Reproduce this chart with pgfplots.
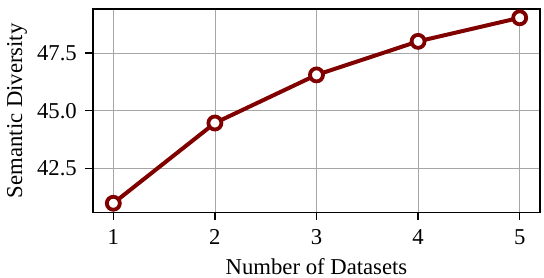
\documentclass[border=0pt]{standalone}
\usepackage{fontspec}
\setmainfont{Liberation Serif}
\usepackage{pgfplots}
\pgfplotsset{compat=1.18}
\definecolor{lc}{HTML}{800000}
\begin{document}
\fontsize{22.7}{27}\selectfont
\begin{tikzpicture}
\begin{axis}[
  scale only axis,
  width=447pt, height=203.5pt,
  xmin=0.8, xmax=5.2,
  ymin=40.6, ymax=49.4,
  xtick={1,2,3,4,5},
  ytick={42.5,45.0,47.5},
  yticklabel style={/pgf/number format/fixed, /pgf/number format/fixed zerofill, /pgf/number format/precision=1},
  /pgf/number format/assume math mode=true,
  tick align=outside,
  tick style={black, line width=1.2pt},
  major tick length=7.5pt,
  xtick pos=bottom, ytick pos=left,
  axis line style={line width=1.6pt, black},
  grid=major,
  major grid style={line width=0.8pt, color=black!35},
  xticklabel style={inner sep=0pt},
  yticklabel style={inner sep=0pt},
  xticklabel shift=9pt, yticklabel shift=8.5pt,
  xlabel={Number of Datasets},
  ylabel={Semantic Diversity},
  xlabel style={at={(axis description cs:0.5,-0.3047)}, anchor=base, inner sep=0pt},
  ylabel style={at={(axis description cs:-0.170,0.5)}, anchor=center, inner sep=0pt},
]
\addplot[color=lc, line width=4pt, mark=*, mark size=6.5pt,
  mark options={fill=white, draw=lc, line width=3.8pt}]
  coordinates {(1,41.0) (2,44.47) (3,46.55) (4,48.0) (5,49.02)};
\end{axis}
\pgfresetboundingbox
\path[use as bounding box] (-93pt,-65.5pt) rectangle (451pt,212.5pt);
\end{tikzpicture}
\end{document}
